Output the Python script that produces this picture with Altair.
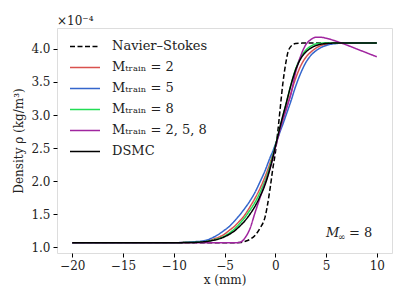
import altair as alt
import pandas as pd

x_mm = [-20, -15, -10, -9, -8, -7, -6, -5, -4.5, -4, -3.5, -3, -2.5, -2, -1.5, -1, -0.5, -0.25,
        0, 0.25, 0.5, 0.75, 1, 1.25, 1.5, 2, 2.5, 3, 3.5, 4, 4.5, 5, 5.5, 6, 7, 8, 9, 10]

ns   = [1.07, 1.07, 1.07, 1.07, 1.07, 1.07, 1.07, 1.07, 1.07, 1.07, 1.072, 1.09, 1.12, 1.18, 1.29, 1.46, 1.90, 2.18,
        2.42, 2.75, 3.12, 3.48, 3.75, 3.95, 4.03, 4.08, 4.085, 4.09, 4.09, 4.09, 4.09, 4.09, 4.09, 4.09, 4.09, 4.09, 4.09, 4.09]
m2   = [1.07, 1.07, 1.07, 1.073, 1.078, 1.09, 1.13, 1.20, 1.26, 1.32, 1.40, 1.49, 1.61, 1.74, 1.89, 2.07, 2.28, 2.40,
        2.53, 2.66, 2.79, 2.92, 3.05, 3.18, 3.31, 3.55, 3.74, 3.87, 3.95, 4.01, 4.05, 4.07, 4.08, 4.09, 4.09, 4.09, 4.09, 4.09]
m5   = [1.07, 1.07, 1.07, 1.075, 1.085, 1.10, 1.16, 1.26, 1.32, 1.40, 1.49, 1.59, 1.70, 1.83, 1.99, 2.16, 2.36, 2.45,
        2.55, 2.65, 2.76, 2.86, 2.97, 3.08, 3.19, 3.43, 3.63, 3.79, 3.90, 3.97, 4.02, 4.05, 4.07, 4.08, 4.09, 4.09, 4.09, 4.09]
m8   = [1.07, 1.07, 1.07, 1.072, 1.075, 1.085, 1.115, 1.17, 1.22, 1.28, 1.36, 1.45, 1.56, 1.68, 1.83, 2.01, 2.24, 2.38,
        2.53, 2.68, 2.83, 2.98, 3.13, 3.28, 3.43, 3.69, 3.87, 3.98, 4.04, 4.075, 4.085, 4.09, 4.09, 4.09, 4.09, 4.09, 4.09, 4.09]
m258 = [1.07, 1.07, 1.07, 1.07, 1.07, 1.07, 1.07, 1.07, 1.07, 1.07, 1.075, 1.14, 1.28, 1.52, 1.75, 1.97, 2.20, 2.34,
        2.50, 2.65, 2.80, 2.94, 3.05, 3.17, 3.29, 3.64, 3.89, 4.06, 4.14, 4.175, 4.175, 4.16, 4.14, 4.115, 4.06, 4.00, 3.94, 3.88]
dsmc = [1.07, 1.07, 1.07, 1.072, 1.075, 1.085, 1.11, 1.16, 1.20, 1.25, 1.32, 1.40, 1.50, 1.62, 1.77, 1.95, 2.20, 2.35,
        2.52, 2.68, 2.84, 2.99, 3.13, 3.28, 3.43, 3.68, 3.85, 3.95, 4.01, 4.05, 4.07, 4.08, 4.085, 4.09, 4.09, 4.09, 4.09, 4.09]

series_names = ["Navier–Stokes", "Mₜᵣₐᵢₙ = 2", "Mₜᵣₐᵢₙ = 5", "Mₜᵣₐᵢₙ = 8", "Mₜᵣₐᵢₙ = 2, 5, 8", "DSMC"]
series_vals = [ns, m2, m5, m8, m258, dsmc]
colors = ["#000000", "#d9514e", "#3466cc", "#22dd55", "#a0259f", "#000000"]
dashes = [[5, 2.5], [1, 0], [1, 0], [1, 0], [1, 0], [1, 0]]

x_ticks = [-20, -15, -10, -5, 0, 5, 10]
y_ticks = [1.0, 1.5, 2.0, 2.5, 3.0, 3.5, 4.0]

rows = []
for k, (name, vals) in enumerate(zip(series_names, series_vals)):
    for xv, yv in zip(x_mm, vals):
        rows.append({"x": xv, "rho": yv, "series": name, "order": k})
df = pd.DataFrame(rows)

SERIF = "DejaVu Serif"
TXT = "#222222"

xscale = alt.Scale(domain=[-21.5, 11.5], nice=False, zero=False)
yscale = alt.Scale(domain=[0.915, 4.315], nice=False, zero=False)

xaxis = alt.Axis(title="x (mm)", values=x_ticks, format="d", grid=False, labelOverlap=False,
                 tickSize=4, tickColor="black", domain=False, labelFont=SERIF,
                 labelFontSize=12, labelColor=TXT, titleFont=SERIF, titleFontSize=12,
                 titleFontWeight="normal", titleColor=TXT, labelPadding=3, titlePadding=3)
yaxis = alt.Axis(title="Density ρ (kg/m³)", values=y_ticks, format=".1f", grid=False, labelOverlap=False,
                 tickSize=4, tickColor="black", domain=False, labelFont=SERIF,
                 labelFontSize=12, labelColor=TXT, titleFont=SERIF, titleFontSize=12,
                 titleFontWeight="normal", titleColor=TXT, labelPadding=3, titlePadding=5)

lines = alt.Chart(df).mark_line(strokeWidth=1.5, interpolate="monotone").encode(
    x=alt.X("x:Q", scale=xscale, axis=xaxis),
    y=alt.Y("rho:Q", scale=yscale, axis=yaxis),
    color=alt.Color("series:N", scale=alt.Scale(domain=series_names, range=colors),
                    legend=alt.Legend(title=None, orient="none", legendX=12, legendY=8,
                                      symbolType="stroke", symbolSize=900, symbolStrokeWidth=1.5,
                                      labelFont=SERIF, labelFontSize=13, labelColor=TXT,
                                      labelOffset=11, clipHeight=20.8, rowPadding=0, padding=0)),
    strokeDash=alt.StrokeDash("series:N", scale=alt.Scale(domain=series_names, range=dashes), legend=None),
    order=alt.Order("order:Q"),
    detail="series:N",
)

ann_x = [5.0]
ann_y = [1.15]
ann = pd.DataFrame({"x": ann_x, "rho": ann_y})
enc = dict(x=alt.X("x:Q", scale=xscale, axis=xaxis), y=alt.Y("rho:Q", scale=yscale, axis=yaxis))
ann_m = alt.Chart(ann).mark_text(text="M", font=SERIF, fontSize=13, fontStyle="italic",
                                 align="left", baseline="alphabetic", color=TXT).encode(**enc)
ann_inf = alt.Chart(ann).mark_text(text="∞", font=SERIF, fontSize=9, align="left",
                                   baseline="alphabetic", dx=12, dy=3, color=TXT).encode(**enc)
ann_eq = alt.Chart(ann).mark_text(text="= 8", font=SERIF, fontSize=13, align="left",
                                  baseline="alphabetic", dx=23, color=TXT).encode(**enc)

scale_txt = alt.Chart(pd.DataFrame({"t": ["×10⁻⁴"]})).mark_text(
    font=SERIF, fontSize=12, align="left", baseline="alphabetic", color=TXT).encode(
    text="t:N", x=alt.value(0), y=alt.value(-3))

chart = alt.layer(lines, ann_m, ann_inf, ann_eq, scale_txt).properties(
    width=335, height=225,
    autosize=alt.AutoSizeParams(type="none"),
    padding={"left": 49, "top": 20, "right": 7, "bottom": 40},
).configure_view(stroke="#333333", strokeWidth=1).configure(background="white")

chart.save("out.html", embed_options={"renderer": "svg", "actions": False})
